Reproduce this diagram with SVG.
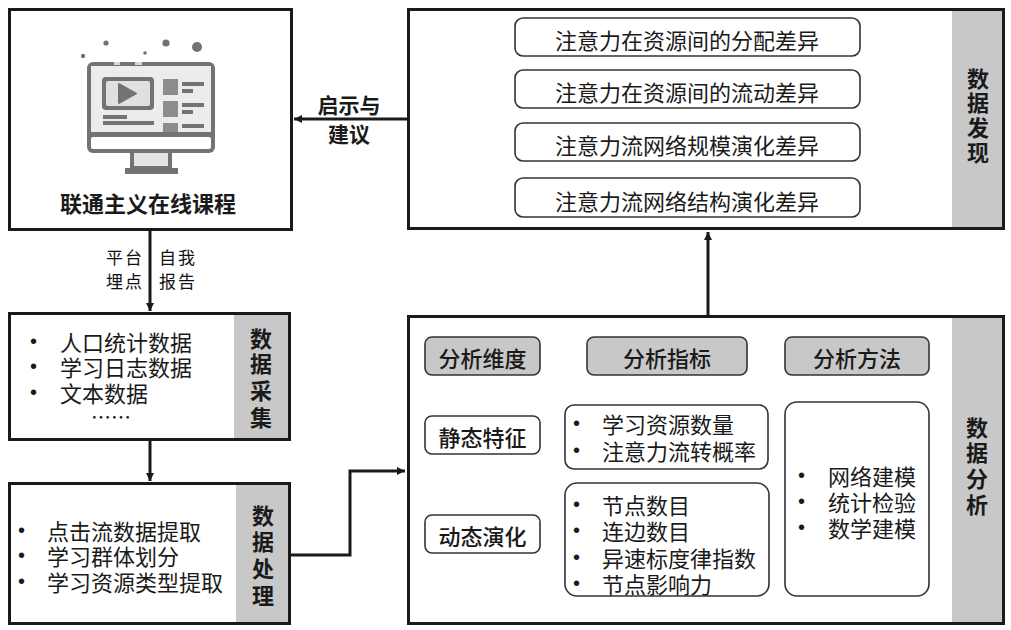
<svg xmlns="http://www.w3.org/2000/svg" width="1011" height="630" viewBox="0 0 1011 630">
<defs>
<style>
.t{font-family:"Noto Sans CJK SC","Liberation Sans",sans-serif;font-size:22px;fill:#1a1a1a;dominant-baseline:central}
.b{font-weight:bold}
.m{font-weight:500}
.c{text-anchor:middle}
.bul{font-family:"Liberation Sans",sans-serif;font-size:20px}
.frame{fill:none;stroke:#1a1a1a;stroke-width:3}
.strip{fill:#c8c8c8}
.rb{fill:#fff;stroke:#333;stroke-width:1.6}
.hb{fill:#c8c8c8;stroke:#333;stroke-width:1.6}
.lbl{font-family:"Noto Sans CJK SC","Liberation Sans",sans-serif;font-size:17px;fill:#111;letter-spacing:2px;dominant-baseline:central}
.ic{fill:#737373}
.icl{fill:#ececec}
.conn{fill:none;stroke:#1a1a1a;stroke-width:3}
</style>
<marker id="ah" markerWidth="10" markerHeight="10" refX="8" refY="4" orient="auto" markerUnits="userSpaceOnUse">
<path d="M0,0 L8,4 L0,8 Z" fill="#1a1a1a"/>
</marker>
</defs>
<rect width="1011" height="630" fill="#fff"/>

<g id="course">
<rect class="frame" x="9.5" y="9.5" width="282" height="220" fill="#fff"/>
<circle class="ic" cx="106" cy="43" r="2.6"/>
<circle class="ic" cx="83" cy="56" r="2.2"/>
<circle class="ic" cx="145" cy="53" r="1.8"/>
<circle class="ic" cx="166" cy="43" r="3.6"/>
<circle class="ic" cx="197" cy="47" r="5"/>
<rect class="ic" x="87" y="62" width="128" height="91" rx="6"/>
<rect class="icl" x="91" y="66" width="120" height="66"/>
<rect fill="#d8d8d8" x="114" y="62" width="6" height="3"/>
<rect fill="#d8d8d8" x="135" y="62" width="7" height="3"/>
<rect fill="#fff" x="91" y="137" width="120" height="12" rx="2"/>
<rect class="ic" x="102" y="77" width="52" height="33" rx="4"/>
<rect fill="#e0e0e0" x="106" y="81" width="44" height="25" rx="2"/>
<path class="ic" d="M119,84 L119,103 L136,93.5 Z" stroke="#737373" stroke-width="2" stroke-linejoin="round"/>
<rect class="ic" x="103" y="115" width="24" height="4"/>
<rect class="ic" x="103" y="121" width="51" height="4"/>
<rect fill="#8c8c8c" x="163" y="79" width="15" height="16"/>
<rect fill="#8c8c8c" x="163" y="101" width="15" height="16"/>
<rect fill="#8c8c8c" x="163" y="123" width="15" height="9"/>
<rect class="ic" x="182" y="82" width="22" height="4"/>
<rect class="ic" x="182" y="89" width="11" height="4"/>
<rect class="ic" x="182" y="103" width="22" height="4"/>
<rect class="ic" x="182" y="110" width="11" height="4"/>
<rect class="ic" x="182" y="124" width="22" height="4"/>
<rect class="ic" x="130" y="152" width="42" height="17"/>
<rect fill="#e4e4e4" x="134" y="153" width="34" height="13"/>
<rect class="ic" x="125" y="168" width="53" height="6"/>
<text class="t b c" x="148" y="202">联通主义在线课程</text>
</g>

<g id="discovery">
<rect class="strip" x="952" y="9" width="52" height="220"/>
<rect class="frame" x="408.5" y="9.5" width="595" height="219"/>
<rect class="rb" x="515" y="18" width="345" height="38" rx="8"/>
<text class="t c" x="687" y="39">注意力在资源间的分配差异</text>
<rect class="rb" x="515" y="70" width="345" height="38" rx="8"/>
<text class="t c" x="687" y="91">注意力在资源间的流动差异</text>
<rect class="rb" x="515" y="123" width="345" height="38" rx="8"/>
<text class="t c" x="687" y="144">注意力流网络规模演化差异</text>
<rect class="rb" x="515" y="178" width="345" height="39" rx="8"/>
<text class="t c" x="687" y="200">注意力流网络结构演化差异</text>
<text class="t b c"><tspan x="978" y="77">数</tspan><tspan x="978" y="101">据</tspan><tspan x="978" y="126">发</tspan><tspan x="978" y="151">现</tspan></text>
</g>

<g id="collection">
<rect class="strip" x="234" y="313" width="56" height="127"/>
<rect class="frame" x="9.5" y="313.5" width="280" height="126"/>
<text class="t"><tspan class="bul" x="30" y="341">•</tspan><tspan x="60" y="341">人口统计数据</tspan><tspan class="bul" x="30" y="366">•</tspan><tspan x="60" y="366">学习日志数据</tspan><tspan class="bul" x="30" y="392">•</tspan><tspan x="60" y="392">文本数据</tspan><tspan x="91" y="416" style="font-size:20px">……</tspan></text>
<text class="t b c"><tspan x="261" y="337">数</tspan><tspan x="261" y="362">据</tspan><tspan x="261" y="389">采</tspan><tspan x="261" y="416">集</tspan></text>
</g>

<g id="processing">
<rect class="strip" x="236" y="483" width="54" height="141"/>
<rect class="frame" x="9.5" y="483.5" width="280" height="140"/>
<text class="t"><tspan class="bul" x="18" y="530">•</tspan><tspan x="47" y="530">点击流数据提取</tspan><tspan class="bul" x="18" y="555">•</tspan><tspan x="47" y="555">学习群体划分</tspan><tspan class="bul" x="18" y="581">•</tspan><tspan x="47" y="581">学习资源类型提取</tspan></text>
<text class="t b c"><tspan x="263" y="514">数</tspan><tspan x="263" y="540">据</tspan><tspan x="263" y="567">处</tspan><tspan x="263" y="594">理</tspan></text>
</g>

<g id="analysis">
<rect class="strip" x="952" y="316" width="52" height="308"/>
<rect class="frame" x="408.5" y="316.5" width="595" height="307"/>
<rect class="hb" x="425" y="337" width="115" height="38" rx="7"/>
<text class="t m c" x="482.5" y="357">分析维度</text>
<rect class="hb" x="587" y="337" width="160" height="38" rx="7"/>
<text class="t m c" x="667" y="357">分析指标</text>
<rect class="hb" x="785" y="337" width="144" height="38" rx="7"/>
<text class="t m c" x="857" y="357">分析方法</text>
<rect class="rb" x="425" y="416" width="115" height="38" rx="7"/>
<text class="t m c" x="482.5" y="436">静态特征</text>
<rect class="rb" x="425" y="515" width="115" height="38" rx="7"/>
<text class="t m c" x="482.5" y="535">动态演化</text>
<rect class="rb" x="565" y="405" width="203" height="64" rx="9"/>
<text class="t"><tspan class="bul" x="573" y="423">•</tspan><tspan x="602" y="423">学习资源数量</tspan><tspan class="bul" x="573" y="450">•</tspan><tspan x="602" y="450">注意力流转概率</tspan></text>
<rect class="rb" x="565" y="483" width="204" height="113" rx="12"/>
<text class="t"><tspan class="bul" x="573" y="504">•</tspan><tspan x="602" y="504">节点数目</tspan><tspan class="bul" x="573" y="530">•</tspan><tspan x="602" y="530">连边数目</tspan><tspan class="bul" x="573" y="557">•</tspan><tspan x="602" y="557">异速标度律指数</tspan><tspan class="bul" x="573" y="583">•</tspan><tspan x="602" y="583">节点影响力</tspan></text>
<rect class="rb" x="785" y="402" width="144" height="194" rx="12"/>
<text class="t"><tspan class="bul" x="798" y="475">•</tspan><tspan x="828" y="475">网络建模</tspan><tspan class="bul" x="798" y="501">•</tspan><tspan x="828" y="501">统计检验</tspan><tspan class="bul" x="798" y="527">•</tspan><tspan x="828" y="527">数学建模</tspan></text>
<text class="t b c"><tspan x="977" y="426">数</tspan><tspan x="977" y="451">据</tspan><tspan x="977" y="477">分</tspan><tspan x="977" y="503">析</tspan></text>
</g>

<g id="connectors">
<line class="conn" x1="407" y1="119" x2="294" y2="119" marker-end="url(#ah)"/>
<line class="conn" x1="150" y1="231" x2="150" y2="311" marker-end="url(#ah)"/>
<line class="conn" x1="150" y1="441" x2="150" y2="481" marker-end="url(#ah)"/>
<polyline class="conn" points="291,555 350,555 350,471 405,471" marker-end="url(#ah)"/>
<line class="conn" x1="708" y1="315" x2="708" y2="232" marker-end="url(#ah)"/>
<text class="t b c" style="font-size:21px"><tspan x="349" y="104">启示与</tspan><tspan x="349" y="133">建议</tspan></text>
<text class="lbl"><tspan x="106" y="256">平台</tspan><tspan x="106" y="280">埋点</tspan></text>
<text class="lbl"><tspan x="159" y="256">自我</tspan><tspan x="159" y="280">报告</tspan></text>
</g>
</svg>
